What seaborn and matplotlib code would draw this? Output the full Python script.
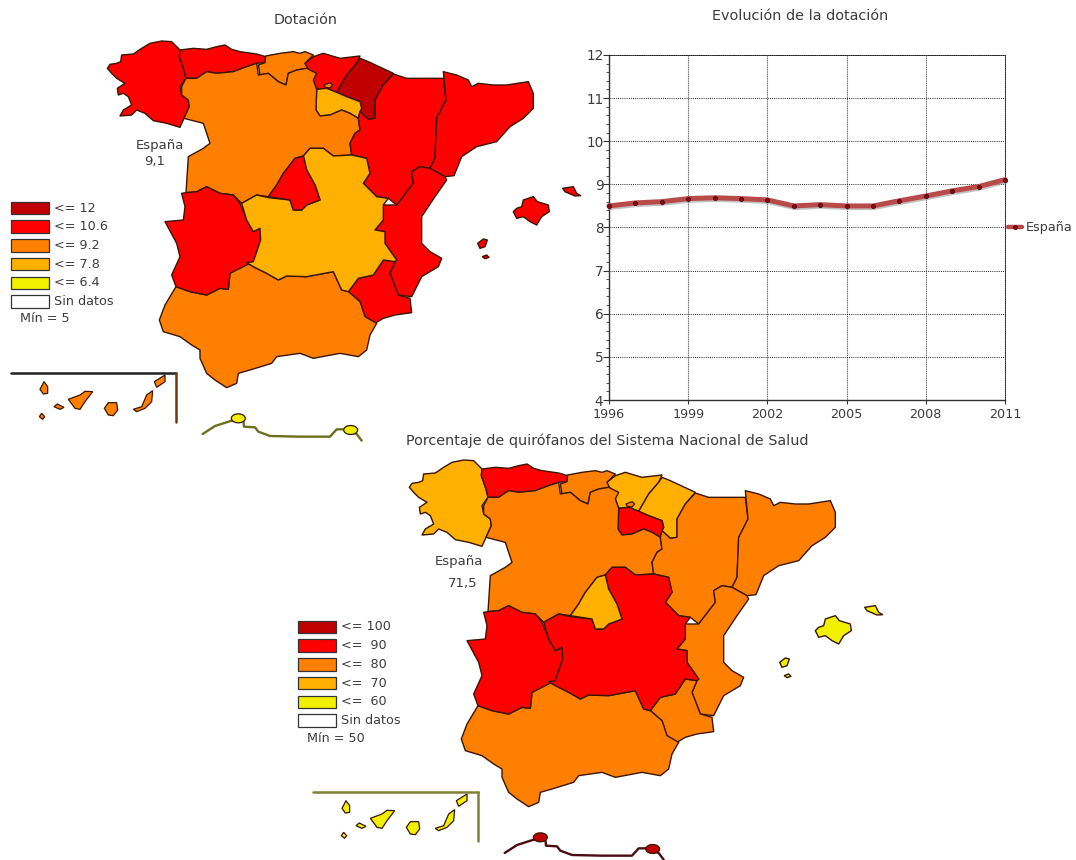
import matplotlib
matplotlib.use("Agg")
import matplotlib.pyplot as plt
from matplotlib.patches import Polygon, Rectangle
from matplotlib.lines import Line2D
import matplotlib.patheffects as pe
from matplotlib.ticker import MultipleLocator, FixedLocator
import numpy as np
import pandas as pd
import seaborn as sns

# ---------- line-chart data ----------
years = list(range(1996, 2012))
dotacion = [8.50, 8.57, 8.60, 8.67, 8.69, 8.67, 8.64, 8.50, 8.53, 8.50, 8.50, 8.62, 8.73, 8.85, 8.95, 9.11]

# ---------- map classes (index into class_colors) ----------
class_colors = ["#c00000", "#ff0000", "#ff8000", "#ffb000", "#f0f000", "#ffffff"]
labels_dot = ["<= 12", "<= 10.6", "<= 9.2", "<= 7.8", "<= 6.4", "Sin datos"]
labels_quir = ["<= 100", "<=  90", "<=  80", "<=  70", "<=  60", "Sin datos"]
region_names = ["Galicia", "Asturias", "Cantabria", "PaisVasco", "Navarra", "Rioja", "CyL", "Aragon",
                "Cataluna", "Valencia", "Murcia", "Andalucia", "Extremadura", "CLM", "Madrid",
                "Baleares", "Canarias", "CeutaMelilla"]
bins_dot =  [1, 1, 2, 1, 0, 3, 2, 1, 1, 1, 1, 2, 1, 3, 1, 1, 2, 4]
bins_quir = [3, 1, 2, 3, 3, 1, 2, 2, 2, 2, 2, 2, 1, 1, 3, 4, 4, 0]

# ---------- region outlines (3x pixel units) ----------
shapes = {
 "Galicia": [[(22,115),(30,103),(50,100),(62,95),(65,75),(100,72),(125,55),(150,40),(185,33),(215,35),(240,60),(238,80),(252,120),(258,145),(240,170),(245,195),(265,210),(268,230),(252,265),(240,292),(200,280),(160,272),(135,250),(110,240),(95,255),(60,258),(70,240),(95,225),(85,200),(70,190),(55,195),(52,175),(75,160),(50,145),(35,130)]],
 "Asturias": [[(240,60),(280,55),(320,58),(350,50),(375,45),(395,58),(420,65),(470,72),(497,80),(495,98),(470,100),(440,110),(400,125),(350,130),(320,125),(290,145),(258,145),(252,120),(238,80)]],
 "Cantabria": [[(497,78),(540,70),(580,65),(600,70),(615,65),(640,75),(615,100),(650,130),(620,115),(590,120),(565,130),(558,165),(535,155),(505,130),(480,135),(475,105),(495,98)]],
 "PaisVasco": [[(615,100),(640,80),(670,70),(720,85),(780,78),(770,100),(740,135),(720,170),(710,187),(680,175),(650,178),(640,150),(630,130)]],
 "Navarra": [[(780,85),(805,95),(880,130),(850,165),(825,210),(825,265),(805,268),(780,245),(785,235),(780,215),(740,200),(710,187),(720,170),(740,135),(770,100)]],
 "Rioja": [[(650,178),(680,175),(710,187),(740,200),(780,215),(785,235),(780,245),(775,265),(750,250),(725,240),(690,255),(660,258),(648,240)]],
 "CyL": [[(258,145),(290,145),(320,125),(350,130),(400,125),(440,110),(470,100),(475,135),(505,130),(535,155),(558,165),(565,130),(590,120),(620,115),(650,130),(640,150),(650,178),(648,240),(660,258),(690,255),(725,240),(750,250),(775,265),(780,300),(765,310),(750,340),(755,375),(700,378),(670,355),(630,355),(610,378),(585,385),(550,430),(530,465),(505,500),(470,495),(425,520),(400,495),(360,490),(320,470),(290,485),(258,488),(265,380),(310,355),(330,340),(310,280),(252,265),(268,230),(265,210),(245,195),(245,170)]],
 "Aragon": [[(880,132),(920,145),(1030,145),(1038,210),(1010,265),(1005,385),(990,415),(960,410),(935,425),(940,460),(890,525),(865,505),(830,500),(790,460),(810,430),(800,385),(755,375),(750,340),(765,310),(780,300),(775,265),(780,245),(805,268),(825,265),(825,210),(850,165)]],
 "Cataluna": [[(1030,125),(1070,135),(1105,150),(1115,170),(1135,160),(1180,165),(1220,165),(1285,155),(1300,190),(1300,235),(1270,265),(1230,290),(1190,335),(1130,350),(1085,380),(1062,437),(1035,440),(990,415),(1005,385),(1010,265),(1038,210)]],
 "Valencia": [[(935,425),(960,410),(990,415),(1035,440),(1040,450),(1005,500),(965,560),(965,640),(990,665),(1025,685),(1015,710),(965,740),(935,800),(895,795),(870,730),(885,695),(890,690),(855,640),(855,605),(825,600),(850,570),(850,525),(890,525),(940,460)]],
 "Murcia": [[(885,695),(870,730),(895,795),(930,805),(935,848),(885,855),(850,865),(825,880),(795,860),(780,815),(745,785),(775,745),(820,735),(850,690)]],
 "Andalucia": [[(228,770),(270,785),(320,795),(360,775),(385,778),(390,730),(440,698),(460,710),(500,730),(535,750),(560,738),(620,740),(700,725),(725,780),(745,785),(780,815),(795,860),(830,880),(810,915),(800,960),(775,980),(720,970),(640,985),(600,970),(530,980),(515,1000),(450,1020),(415,1030),(410,1060),(380,1073),(345,1050),(320,1030),(300,985),(300,960),(275,945),(240,920),(190,905),(178,870),(195,825)]],
 "Extremadura": [[(245,490),(258,488),(290,485),(320,470),(360,490),(400,495),(420,520),(440,570),(460,605),(480,595),(482,630),(460,695),(390,730),(385,778),(360,775),(320,795),(270,785),(228,770),(215,735),(240,680),(230,640),(195,575),(250,570),(255,530)]],
 "CLM": [[(425,520),(470,495),(505,503),(570,510),(580,540),(605,540),(620,525),(660,510),(645,465),(620,420),(610,378),(630,355),(670,355),(700,378),(755,375),(800,385),(810,430),(790,460),(830,500),(865,505),(850,525),(850,570),(825,600),(855,605),(855,640),(890,690),(885,695),(850,690),(820,735),(775,745),(745,785),(725,780),(700,725),(620,740),(560,738),(535,750),(500,730),(460,710),(440,698),(460,695),(482,630),(480,595),(460,605),(440,570)]],
 "Madrid": [[(610,378),(620,420),(645,465),(660,510),(620,525),(605,540),(580,540),(570,510),(505,500),(530,465),(550,430),(585,385)]],
 "Baleares": [[(1240,545),(1250,535),(1265,530),(1270,510),(1300,500),(1312,515),(1345,525),(1348,545),(1325,560),(1310,585),(1290,575),(1270,560),(1250,565)],
              [(1388,475),(1420,470),(1430,490),(1442,497),(1425,498),(1395,485)],
              [(1133,640),(1150,627),(1162,630),(1155,650),(1140,655)],
              [(1147,680),(1160,675),(1167,682),(1155,686)]],
}
trevino = [(672,165),(690,158),(698,165),(690,174),(676,172)]
canarias = [[(118,680),(125,670),(134,680),(128,688)],
            [(120,598),(132,575),(143,590),(143,610),(130,612)],
            [(162,650),(172,642),(192,652),(180,658)],
            [(205,628),(240,615),(255,604),(278,605),(255,635),(240,658),(225,655)],
            [(313,655),(325,638),(350,638),(353,660),(340,677),(325,675)],
            [(400,658),(425,650),(440,615),(458,602),(455,635),(435,655),(410,665)],
            [(463,575),(495,555),(495,575),(470,592)]]
africa_line = [(308,1212),(345,1188),(395,1172),(430,1170),(432,1190),(465,1192),(475,1205),(510,1218),(600,1220),(690,1220),(710,1198),(735,1198),(770,1212),(785,1232)]
ceuta = (415, 1165)
melilla = (752, 1200)

sns.set_theme(style="white", rc={"font.family": ["DejaVu Sans"]})
plt.rcParams["font.family"] = ["DejaVu Sans"]
TXT = "#3c3c3c"
EDGE = "#3a1500"
FS = 9.2
TITLE_FS = 10.4

fig = plt.figure(figsize=(10.76, 8.6), dpi=100)
bg = fig.add_axes([0, 0, 1, 1])
bg.set_xlim(0, 1076); bg.set_ylim(860, 0); bg.axis("off")


def map_pts(pts, dx, dy):
    a = np.asarray(pts, float) / 3
    return a + [100 + dx, 30 + dy]


def draw_map(bins, dx, dy, frame_h, frame_v, line_col, leg_x, leg_y, labels, minimo):
    for name, b in zip(region_names, bins):
        for poly in shapes.get(name, []):
            bg.add_patch(Polygon(map_pts(poly, dx, dy), closed=True, fc=class_colors[b], ec=EDGE,
                                 lw=1.0, joinstyle="round", zorder=2))
    bg.add_patch(Polygon(map_pts(trevino, dx, dy), closed=True, fc=class_colors[2], ec=EDGE, lw=0.9, zorder=3))
    can_c = class_colors[bins[region_names.index("Canarias")]]
    for poly in canarias:
        a = np.asarray(poly, float) / 3 + [dx, 190 + dy]
        bg.add_patch(Polygon(a, closed=True, fc=can_c, ec=EDGE, lw=0.9, zorder=2))
    bg.plot([11 + dx, 176 + dx], [372.7 + dy, 372.7 + dy], color=frame_h, lw=1.8, zorder=2)
    bg.plot([176 + dx, 176 + dx], [372.7 + dy, 421.5 + dy], color=frame_v, lw=1.8, zorder=2)
    a = map_pts(africa_line, dx, dy)
    bg.plot(a[:, 0], a[:, 1], color=line_col, lw=1.7, zorder=2)
    cm_c = class_colors[bins[region_names.index("CeutaMelilla")]]
    for c in (ceuta, melilla):
        p = map_pts([c], dx, dy)[0]
        t = np.linspace(0, 2 * np.pi, 24)
        bg.add_patch(Polygon(np.c_[p[0] + 7 * np.cos(t), p[1] + 4.5 * np.sin(t)], closed=True,
                             fc=cm_c, ec=EDGE, lw=0.9, zorder=3))
    for i, (c, lab) in enumerate(zip(class_colors, labels)):
        yc = leg_y + i * 18.7
        bg.add_patch(Rectangle((leg_x, yc - 6.3), 38, 12.6, fc=c, ec="#333333", lw=0.9, zorder=2))
        bg.text(leg_x + 43, yc, lab, fontsize=FS, color=TXT, va="center", ha="left")
    bg.text(leg_x + 9, leg_y + 111, minimo, fontsize=FS, color=TXT, va="center", ha="left")


draw_map(bins_dot, 0, 0, "#222222", "#6b3a10", "#6e6e20", 11, 208, labels_dot, "Mín = 5")
draw_map(bins_quir, 302, 419, "#80803a", "#80803a", "#4a0c10", 298, 627, labels_quir, "Mín = 50")

bg.text(160, 145, "España", fontsize=FS + 0.3, color=TXT, ha="center", va="center")
bg.text(155, 162, "9,1", fontsize=FS + 0.3, color=TXT, ha="center", va="center")
bg.text(459, 561, "España", fontsize=FS + 0.3, color=TXT, ha="center", va="center")
bg.text(463, 583, "71,5", fontsize=FS + 0.3, color=TXT, ha="center", va="center")
bg.text(306, 20, "Dotación", fontsize=TITLE_FS, color=TXT, ha="center", va="center")
bg.text(800, 16, "Evolución de la dotación", fontsize=TITLE_FS, color=TXT, ha="center", va="center")
bg.text(607, 441, "Porcentaje de quirófanos del Sistema Nacional de Salud", fontsize=TITLE_FS, color=TXT, ha="center", va="center")

# ---------- line chart ----------
L, R, T, B = 609, 1005, 55, 400
ax = fig.add_axes([L / 1076, 1 - B / 860, (R - L) / 1076, (B - T) / 860], facecolor="none")
df = pd.DataFrame({"year": years, "dotacion": dotacion})
sns.lineplot(data=df, x="year", y="dotacion", ax=ax, color="#b84a4a", lw=3.6, zorder=4, clip_on=False,
             path_effects=[pe.SimpleLineShadow(offset=(0.6, -1.2), shadow_color="#999999", alpha=0.6), pe.Normal()])
sns.scatterplot(data=df, x="year", y="dotacion", ax=ax, color="#8a0a14", s=9, edgecolor="#400008", lw=0.5,
                zorder=5, clip_on=False)
ax.set_xlim(1996, 2011); ax.set_ylim(4, 12)
ax.set_xlabel(""); ax.set_ylabel("")
ax.xaxis.set_major_locator(FixedLocator(list(range(1996, 2012, 3))))
ax.yaxis.set_major_locator(MultipleLocator(1))
ax.yaxis.set_minor_locator(MultipleLocator(0.2))
ax.grid(True, axis="y", color="#222222", ls=(0, (1, 1.2)), lw=0.7)
ax.grid(True, axis="x", color="#666666", ls=(0, (1, 0.6)), lw=0.8)
ax.set_axisbelow(True)
for s in ("top", "right"):
    ax.spines[s].set_color("#222222"); ax.spines[s].set_linestyle((0, (1, 1.2))); ax.spines[s].set_linewidth(0.7)
for s in ("left", "bottom"):
    ax.spines[s].set_color("#333333"); ax.spines[s].set_linewidth(1.0); ax.spines[s].set_visible(True)
ax.tick_params(axis="y", which="major", left=True, length=4, width=0.8, color="#333333", labelsize=FS + 0.6, labelcolor=TXT, pad=0)
ax.tick_params(axis="y", which="minor", left=True, length=2, width=0.6, color="#333333")
ax.tick_params(axis="x", which="major", bottom=True, length=3, width=0.8, color="#333333", labelsize=FS, labelcolor=TXT, pad=3)

handle = Line2D([], [], color="#b84a4a", lw=3.2, marker="o", ms=3, mfc="#8a0a14", mec="#400008", mew=0.4)
ax.legend([handle], ["España"], loc="center left", bbox_to_anchor=(1.0, 0.5), frameon=False, fontsize=FS,
          labelcolor=TXT, handlelength=1.1, handletextpad=0.3, borderpad=0, borderaxespad=0.2)

fig.savefig("out.png", dpi=100, facecolor="white")
